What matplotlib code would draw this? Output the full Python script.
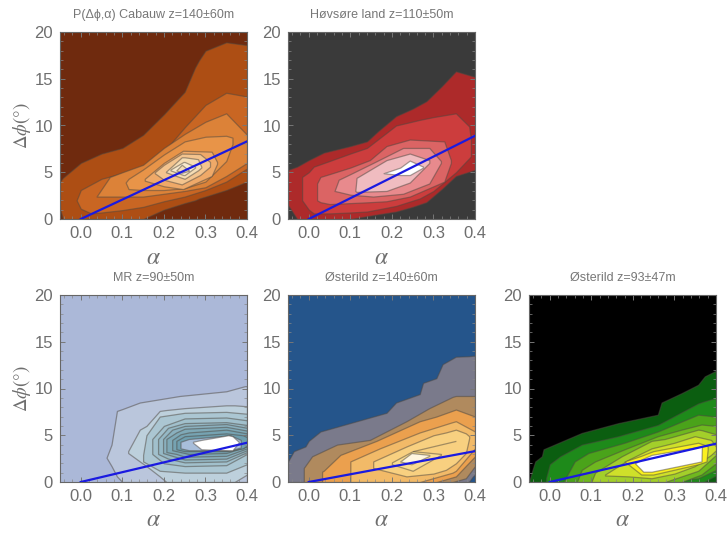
# -*- coding: utf-8 -*-
"""
P(dphi, alpha) contour panels for five sites, read off the published figure.
Every filled level is stored as x / upper / lower boundary rows.
"""

import matplotlib
matplotlib.use('Agg')
import matplotlib.pyplot as plt
from matplotlib.ticker import MultipleLocator

plt.rcParams['mathtext.fontset'] = 'stix'
plt.rcParams['font.family'] = ['Liberation Sans', 'DejaVu Sans']

# ── Cabauw ────────────────────────────────────────────────────────────────────
cabauw_x = [
    [-.05, -.043, 0, .05, .1, .15, .2, .25, .275, .285, .3, .35, .4],
    [-.01, 0, .025, .05, .1, .15, .2, .25, .3, .35, .4],
    [.038, .07, .1, .15, .2, .25, .3, .35, .4],
    [.108, .115, .15, .2, .25, .3, .35, .365],
    [.154, .2, .246, .315, .328],
    [.178, .2, .243, .287, .311],
    [.205, .243, .25, .282, .29],
    [.216, .247, .25, .275],
    [.23, .243, .26],
]
cabauw_hi = [
    [4.0, 4.4, 6.0, 7.0, 7.6, 9.0, 11.2, 13.6, 16.2, 17.0, 18.0, 18.9, 18.6],
    [2.0, 3.1, 3.7, 4.3, 4.9, 5.6, 7.2, 9.8, 12.2, 13.5, 13.1],
    [2.4, 4.5, 5.0, 5.8, 7.6, 9.1, 10.4, 11.3, 9.0],
    [3.9, 4.3, 5.3, 6.9, 8.3, 8.8, 8.9, 8.7],
    [4.3, 6.0, 7.3, 7.2, 6.1],
    [5.0, 5.8, 7.0, 6.95, 6.1],
    [5.06, 6.6, 6.6, 6.4, 5.6],
    [5.3, 6.1, 6.1, 5.6],
    [5.2, 5.8, 5.2],
]
cabauw_lo = [
    [1.1, 0, 0, 0, 0, 0, 1.0, 1.7, 2.0, 2.2, 2.4, 3.1, 4.0],
    [2.0, 1.1, .6, .7, .95, 1.3, 1.9, 2.4, 3.1, 4.0, 5.4],
    [2.4, 2.4, 2.4, 2.4, 2.7, 3.0, 3.4, 4.6, 6.0],
    [3.9, 3.2, 3.1, 3.1, 3.3, 4.0, 6.2, 8.0],
    [4.1, 3.5, 3.2, 4.6, 5.9],
    [4.9, 4.2, 3.7, 4.7, 5.6],
    [5.0, 4.4, 4.3, 5.2, 5.5],
    [5.2, 4.7, 4.7, 5.5],
    [5.2, 4.95, 5.15],
]
cabauw_colors = ['#AD4E14', '#C96623', '#DC8238', '#E89448', '#EFA968',
                 '#F3C48E', '#F5DDB4', '#F8EACD', '#F4DDB5']

# ── Høvsøre ───────────────────────────────────────────────────────────────────
hovsore_x = [
    [-.05, -.028, 0, .036, .1, .14, .167, .21, .25, .283, .32, .354, .4],
    [-.016, 0, .012, .05, .1, .14, .21, .267, .3, .354, .386, .39],
    [.02, .028, .05, .1, .147, .187, .243, .326, .342],
    [.062, .072, .1, .155, .227, .29, .318],
    [.112, .115, .187, .243, .29],
    [.18, .22, .243, .275],
]
hovsore_hi = [
    [5.25, 5.6, 6.3, 7.1, 7.8, 8.3, 9.4, 11.0, 11.8, 12.6, 14.2, 15.8, 15.2],
    [4.5, 5.0, 5.6, 6.2, 7.0, 7.6, 10.0, 10.6, 10.9, 11.3, 9.9, 8.5],
    [3.8, 4.5, 4.8, 5.5, 6.3, 7.8, 8.5, 8.3, 6.3],
    [3.0, 4.2, 4.8, 6.0, 7.6, 7.6, 6.2],
    [3.0, 4.4, 6.3, 7.0, 6.3],
    [4.9, 5.5, 6.25, 5.6],
]
hovsore_lo = [
    [1.5, 0, 0, 0, 0, .3, .5, .8, 1.3, 1.8, 3.2, 4.6, 5.25],
    [2.0, 1.0, .6, .6, .7, .8, 1.4, 2.2, 3.0, 5.0, 6.5, 6.7],
    [2.0, 1.8, 1.6, 1.7, 1.8, 1.9, 2.4, 4.0, 6.0],
    [3.0, 2.9, 2.6, 2.4, 2.7, 3.8, 6.0],
    [3.0, 2.9, 3.0, 3.9, 6.0],
    [4.9, 4.7, 4.7, 5.5],
]
hovsore_colors = ['#AD2A2A', '#CC3D3D', '#DB6464', '#E88A8D', '#F0BCC0', '#FFFFFF']

# ── MR ────────────────────────────────────────────────────────────────────────
mr_x = [
    [.062, .074, .087, .1, .142, .238, .35, .395, .4],
    [.114, .142, .158, .19, .206, .25, .35, .37, .4],
    [.15, .158, .19, .25, .35, .4],
    [.172, .2, .25, .35, .4],
    [.186, .21, .25, .35, .4],
    [.198, .22, .25, .35, .4],
    [.206, .23, .25, .35, .4],
    [.22, .24, .26, .35, .4],
    [.23, .25, .35, .39, .4],
    [.24, .26, .36, .385],
    [.27, .29, .355, .365, .38],
]
mr_hi = [
    [2.6, 4.0, 7.6, 7.8, 8.5, 9.2, 9.7, 10.25, 10.25],
    [3.3, 5.6, 6.0, 7.6, 7.7, 7.9, 8.2, 8.2, 8.1],
    [2.9, 5.0, 7.0, 7.4, 7.5, 7.3],
    [4.6, 6.0, 6.8, 6.9, 6.6],
    [4.6, 5.8, 6.3, 6.4, 6.1],
    [4.6, 5.6, 6.0, 6.2, 5.8],
    [4.6, 5.3, 5.7, 5.9, 5.5],
    [4.5, 5.1, 5.3, 5.6, 5.2],
    [4.4, 4.9, 5.2, 5.0, 4.8],
    [4.3, 4.6, 5.0, 4.5],
    [4.3, 4.5, 5.0, 4.9, 4.3],
]
mr_lo = [
    [2.6, 1.7, .6, 0, 0, 0, 0, 0, 0],
    [3.1, 2.2, 1.7, .6, 0, 0, 0, 0, .8],
    [2.2, 2.0, 1.2, 1.0, 1.0, 1.9],
    [3.0, 2.0, 1.7, 1.8, 3.0],
    [3.0, 2.5, 2.1, 2.2, 3.2],
    [3.1, 2.8, 2.4, 2.5, 3.4],
    [3.2, 3.0, 2.7, 2.8, 3.6],
    [3.4, 3.2, 3.0, 3.1, 3.8],
    [3.5, 3.3, 3.3, 3.6, 3.9],
    [3.6, 3.4, 3.4, 3.7],
    [4.2, 3.5, 3.4, 3.4, 4.2],
]
mr_colors = ['#BAC6DC', '#BDD0DC', '#ABC6D2', '#A1C0CC', '#95B8C5', '#8AB0BE',
             '#7FA9B7', '#76A3B2', '#6F9FAF', '#A8BEDA', '#FFFFFF']

# ── Østerild z=140 ────────────────────────────────────────────────────────────
ost140_x = [
    [-.05, -.036, -.008, 0, .028, .187, .21, .267, .275, .307, .322, .354, .385, .395, .4],
    [-.012, .008, .068, .147, .235, .29, .346, .354, .378, .4],
    [.032, .036, .076, .163, .267, .307, .354, .4],
    [.1, .171, .25, .267, .346, .354, .4],
    [.155, .235, .3, .33, .354, .378, .386],
    [.2, .25, .318],
    [.25, .354],
    [.22, .247, .29],
]
ost140_hi = [
    [2.2, 3.3, 3.8, 4.4, 5.4, 7.4, 8.5, 9.4, 10.6, 11.1, 12.6, 13.4, 13.45, 13.5, 13.5],
    [1.5, 2.75, 4.0, 4.5, 6.5, 7.9, 9.1, 9.2, 9.2, 9.2],
    [1.1, 1.2, 2.9, 4.4, 6.5, 7.0, 7.75, 7.0],
    [2.2, 3.6, 5.0, 5.3, 6.4, 6.5, 5.4],
    [2.2, 3.8, 5.0, 5.3, 5.6, 5.2, 4.9],
    [2.1, 3.3, 3.0],
    [3.3, 4.4],
    [2.2, 3.1, 2.9],
]
ost140_lo = [
    [0, 0, 0, 0, 0, 0, 0, 0, 0, 0, 0, 0, 0, .6, .8],
    [0, 0, 0, 0, 0, 0, 0, .1, .4, 1.7],
    [0, 0, 0, 0, 0, 0, .6, 2.75],
    [0, 0, 0, 0, 1.0, 1.2, 3.6],
    [1.5, .6, .9, 1.3, 2.0, 3.1, 4.7],
    [1.9, 1.2, 2.9],
    [3.3, 4.4],
    [2.2, 1.9, 2.8],
]
ost140_colors = ['#7A7A8B', '#B08A5E', '#EBA04E', '#F2BA68', '#F8D080',
                 '#FADC90', '#FADC90', '#FFF6E0']

# ── Østerild z=93 ─────────────────────────────────────────────────────────────
ost93_x = [
    [-.05, -.043, -.035, -.019, -.015, .077, .165, .26, .269, .317, .357, .373, .4],
    [-.009, 0, .025, .077, .165, .26, .357, .37, .4],
    [.033, .06, .093, .18, .26, .357, .4],
    [.065, .077, .109, .18, .26, .317, .365, .4],
    [.1, .109, .173, .245, .277, .357, .365, .4],
    [.133, .19, .245, .3, .349, .388, .4],
    [.18, .22, .237, .249, .357, .377, .38],
    [.205, .225, .245, .365, .366],
]
ost93_hi = [
    [0, 1.1, 2.2, 2.75, 3.5, 5.25, 6.3, 7.2, 8.5, 9.5, 10.4, 11.3, 11.9],
    [.4, 1.9, 2.75, 4.0, 4.9, 6.1, 8.4, 8.6, 9.0],
    [0, 2.2, 3.1, 4.2, 5.4, 7.2, 7.0],
    [0, 1.3, 2.2, 3.5, 4.9, 5.6, 6.15, 6.0],
    [0, 1.0, 2.75, 4.4, 4.6, 5.6, 5.55, 5.1],
    [.8, 2.4, 3.6, 4.2, 4.9, 4.5, 3.8],
    [2.2, 2.8, 3.1, 3.3, 4.2, 3.9, 3.8],
    [2.0, 2.5, 2.9, 3.8, 3.8],
]
ost93_lo = [
    [0, 0, 0, 0, 0, 0, 0, 0, 0, 0, 0, 0, 0],
    [0, 0, 0, 0, 0, 0, 0, 0, .7],
    [0, 0, 0, 0, 0, .4, 1.3],
    [0, 0, 0, 0, 0, 0, .8, 2.0],
    [0, 0, 0, 0, 0, 1.2, 1.5, 2.9],
    [.7, .6, .4, .9, 1.7, 2.9, 3.4],
    [2.2, .8, .8, .8, 1.9, 2.2, 3.5],
    [2.0, 1.1, 1.1, 2.2, 3.7],
]
ost93_colors = ['#0B5E10', '#1E8A1A', '#4AA31A', '#6FB81F', '#A3CF2A',
                '#CFE02A', '#FAF020', '#FFFFFF']

# ── Panel table ───────────────────────────────────────────────────────────────
titles = ['P(Δϕ,α) Cabauw z=140±60m', 'Høvsøre land z=110±50m', 'MR z=90±50m',
          'Østerild z=140±60m', 'Østerild z=93±47m']
backgrounds = ['#6F2A0E', '#3A3A3A', '#ABB8D8', '#25558B', '#000000']
line_ends = [8.3, 8.9, 4.2, 3.3, 4.1]
xs = [cabauw_x, hovsore_x, mr_x, ost140_x, ost93_x]
his = [cabauw_hi, hovsore_hi, mr_hi, ost140_hi, ost93_hi]
los = [cabauw_lo, hovsore_lo, mr_lo, ost140_lo, ost93_lo]
colors = [cabauw_colors, hovsore_colors, mr_colors, ost140_colors, ost93_colors]

# left / top pixel of each frame, frames are 187 px square
frames = [(60, 32), (288, 32), (60, 295), (288, 295), (529, 295)]
W, H = 727, 534
SIDE = 187
GREY = '#6E6E6E'

fig = plt.figure(figsize=(W / 100, H / 100), dpi=100)

for i, (left, top) in enumerate(frames):
    ax = fig.add_axes([left / W, 1 - (top + SIDE) / H, SIDE / W, SIDE / H])
    ax.set_facecolor(backgrounds[i])
    for x, hi, lo, c in zip(xs[i], his[i], los[i], colors[i]):
        ax.fill_between(x, lo, hi, facecolor=c, edgecolor=(0.3, 0.28, 0.25, 0.5),
                        linewidth=0.9)
    ax.plot([0, 0.4], [0, line_ends[i]], color='#1A1AE0', linewidth=1.6, zorder=5)

    ax.set_xlim(-0.05, 0.4)
    ax.set_ylim(0, 20)
    ax.xaxis.set_major_locator(MultipleLocator(0.1))
    ax.xaxis.set_minor_locator(MultipleLocator(0.02))
    ax.yaxis.set_major_locator(MultipleLocator(5))
    ax.yaxis.set_minor_locator(MultipleLocator(1))
    ax.xaxis.set_major_formatter(lambda v, pos: f'{v:.1f}')
    ax.tick_params(which='major', direction='in', length=3.5, width=0.7, color='#777777',
                   top=True, right=True, labelsize=12, labelcolor=GREY, pad=5)
    ax.tick_params(which='minor', direction='in', length=2, width=0.5, color='#888888',
                   top=True, right=True)
    for spine in ax.spines.values():
        spine.set_color('#666666')
        spine.set_linewidth(0.8)

    ax.set_title(titles[i], fontsize=9, color='#777777', pad=10)
    ax.set_xlabel(r'$\alpha$', fontsize=17, color=GREY, labelpad=4)
    if i in (0, 2):
        ax.set_ylabel(r'$\Delta\phi(°)$', fontsize=13.5, color=GREY, labelpad=1)

fig.savefig('out.png', dpi=100, facecolor='white')
